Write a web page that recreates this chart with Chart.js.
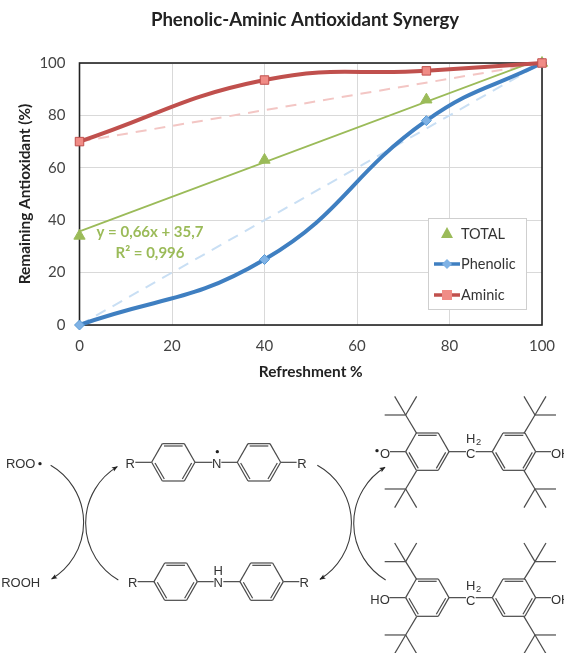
<!DOCTYPE html>
<html>
<head>
<meta charset="utf-8">
<title>Phenolic-Aminic Antioxidant Synergy</title>
<script src="https://cdn.jsdelivr.net/npm/chart.js@4"></script>
<style>
  html, body { margin: 0; padding: 0; background: #fff; overflow: hidden; }
  #page { position: relative; width: 564px; height: 653px; overflow: hidden; filter: blur(0.35px); }
  #chartBox { position: absolute; left: 0; top: 0; width: 564px; height: 385px; }
  #scheme { position: absolute; left: 0; top: 385px; }
  #scheme text { font-family: "Liberation Sans", Arial, sans-serif; font-size: 39px; fill: #333; }
</style>
</head>
<body>
<div id="page">
  <div id="chartBox"><canvas id="synergyChart" width="564" height="385"></canvas></div>
  <svg id="scheme" width="564" height="268" viewBox="0 0 564 268"></svg>
</div>
<script>
// values
const refreshment = [0, 40, 75, 100];
const totalValues = [34, 63, 86, 100];
const phenolicValues = [0, 25, 78, 100];
const aminicValues = [70, 93.5, 97, 100];

const endsX = [0, 100];
const trendValues = [35.7, 101.7];
const phenolicDashed = [0, 100];
const aminicDashed = [70, 100];

const xTicks = [0, 20, 40, 60, 80, 100];
const titleText = 'Phenolic-Aminic Antioxidant Synergy';
const xTitle = 'Refreshment %';
const yTitle = 'Remaining Antioxidant (%)';
const trendLabels = ['y = 0,66x + 35,7', 'R² = 0,996'];

const pts = (xs, ys) => xs.map((x, i) => ({ x: x, y: ys[i] }));
const uiFont = 'Lato, Carlito, sans-serif';

// frame under the lines, title / trend text / legend box on top
const extras = {
    id: 'extras',
    beforeDatasetsDraw(chart) {
        const a = chart.chartArea, c = chart.ctx;
        c.save();
        c.strokeStyle = '#222';
        c.lineWidth = 1.6;
        c.strokeRect(a.left, a.top, a.right - a.left, a.bottom - a.top);
        c.restore();
    },
    afterDatasetsDraw(chart) {
        const c = chart.ctx;
        c.save();
        c.textBaseline = 'middle';

        c.fillStyle = '#222';
        c.font = 'bold 18.6px ' + uiFont;
        c.textAlign = 'center';
        c.fillText(titleText, 305, 20);

        c.fillStyle = '#9bbb59';
        c.font = 'bold 15px ' + uiFont;
        c.fillText(trendLabels[0], 150, 232);
        c.fillText(trendLabels[1], 150, 253);

        // legend
        c.fillStyle = '#fff';
        c.fillRect(428, 218, 98, 91);
        c.strokeStyle = '#cfcfcf';
        c.lineWidth = 1;
        c.strokeRect(428.5, 218.5, 98, 91);

        c.textAlign = 'left';
        c.font = '14.5px ' + uiFont;
        c.fillStyle = '#333';
        c.fillText('TOTAL', 461, 234);
        c.fillText('Phenolic', 461, 264);
        c.fillText('Aminic', 461, 295);

        c.fillStyle = '#9bbb59';
        c.beginPath();
        c.moveTo(447, 227); c.lineTo(453, 238); c.lineTo(441, 238);
        c.closePath();
        c.fill();

        c.lineWidth = 3.5;
        c.strokeStyle = '#3f7fc1';
        c.beginPath(); c.moveTo(434, 264); c.lineTo(460, 264); c.stroke();
        c.fillStyle = '#7fb2e5';
        c.beginPath();
        c.moveTo(447, 259); c.lineTo(452, 264); c.lineTo(447, 269); c.lineTo(442, 264);
        c.closePath();
        c.fill();

        c.strokeStyle = '#c0504d';
        c.beginPath(); c.moveTo(434, 295); c.lineTo(460, 295); c.stroke();
        c.fillStyle = '#f08c86';
        c.fillRect(442, 290, 10, 10);
        c.restore();
    }
};

new Chart(document.getElementById('synergyChart').getContext('2d'), {
    type: 'scatter',
    data: {
        datasets: [
            { label: 'Aminic', data: pts(refreshment, aminicValues), showLine: true, tension: 0.45, order: 1, clip: false,
              borderColor: '#c0504d', borderWidth: 4, pointStyle: 'rect', pointRadius: 6,
              pointBackgroundColor: '#f08c86', pointBorderColor: '#c0504d', pointBorderWidth: 1 },
            { label: 'Phenolic', data: pts(refreshment, phenolicValues), showLine: true, tension: 0.45, order: 2, clip: false,
              borderColor: '#3f7fc1', borderWidth: 4, pointStyle: 'rectRot', pointRadius: 5,
              pointBackgroundColor: '#7fb2e5', pointBorderColor: '#5b9bd5', pointBorderWidth: 1 },
            { label: 'TOTAL', data: pts(refreshment, totalValues), showLine: false, order: 3, clip: false,
              pointStyle: 'triangle', pointRadius: 6.5, pointBackgroundColor: '#9bbb59', pointBorderColor: '#9bbb59' },
            { label: 'Trend', data: pts(endsX, trendValues), showLine: true, order: 4, clip: 0,
              borderColor: '#9bbb59', borderWidth: 1.8, pointRadius: 0 },
            { label: 'Phenolic linear', data: pts(endsX, phenolicDashed), showLine: true, order: 5, clip: 0,
              borderColor: '#c9dff4', borderWidth: 2, borderDash: [11, 8], pointRadius: 0 },
            { label: 'Aminic linear', data: pts(endsX, aminicDashed), showLine: true, order: 6, clip: 0,
              borderColor: '#f3c6c4', borderWidth: 2, borderDash: [11, 8], pointRadius: 0 }
        ]
    },
    options: {
        responsive: false,
        animation: false,
        layout: { padding: { left: 16, right: 22, top: 63, bottom: 4 } },
        plugins: { legend: { display: false }, tooltip: { enabled: false } },
        scales: {
            x: {
                type: 'linear', min: 0, max: 100,
                afterBuildTicks: s => { s.ticks = xTicks.map(v => ({ value: v })); },
                afterFit: s => { s.height = 56; s.paddingLeft = 0; s.paddingRight = 0; },
                grid: { color: '#d9d9d9', drawTicks: false },
                border: { display: false },
                ticks: { color: '#444', font: { family: uiFont, size: 15 }, padding: 12, maxRotation: 0 },
                title: { display: true, text: xTitle, color: '#222', font: { family: uiFont, size: 15.4, weight: 'bold' }, padding: { top: 6, bottom: 0 } }
            },
            y: {
                min: 0, max: 100,
                afterFit: s => { s.width = 63.5; },
                grid: { color: '#d9d9d9', drawTicks: false },
                border: { display: false },
                ticks: { stepSize: 20, color: '#444', font: { family: uiFont, size: 15 }, padding: 14 },
                title: { display: true, text: yTitle, color: '#222', font: { family: uiFont, size: 15.4, weight: 'bold' }, padding: { top: 0, bottom: 4 } }
            }
        }
    },
    plugins: [extras]
});

// reaction scheme below the chart, coordinates are 3x so they read like the zoomed picture
const NS = 'http://www.w3.org/2000/svg';
const svg = document.getElementById('scheme');
const defs = document.createElementNS(NS, 'defs');
const marker = document.createElementNS(NS, 'marker');
marker.setAttribute('id', 'head');
marker.setAttribute('viewBox', '0 0 10 10');
marker.setAttribute('refX', 9);
marker.setAttribute('refY', 5);
marker.setAttribute('markerWidth', 22);
marker.setAttribute('markerHeight', 18);
marker.setAttribute('markerUnits', 'userSpaceOnUse');
marker.setAttribute('orient', 'auto');
const tip = document.createElementNS(NS, 'path');
tip.setAttribute('d', 'M0 1 L10 5 L0 9 L2 5 Z');
tip.setAttribute('fill', '#222');
marker.appendChild(tip);
defs.appendChild(marker);
svg.appendChild(defs);

function group(x) {
    const g = document.createElementNS(NS, 'g');
    g.setAttribute('transform', 'translate(' + x + ',0) scale(0.3333)');
    svg.appendChild(g);
    return g;
}
function line(g, x1, y1, x2, y2, w) {
    const l = document.createElementNS(NS, 'line');
    l.setAttribute('x1', x1); l.setAttribute('y1', y1);
    l.setAttribute('x2', x2); l.setAttribute('y2', y2);
    l.setAttribute('stroke', '#4a4a4a');
    l.setAttribute('stroke-width', w || 3.6);
    g.appendChild(l);
}
function label(g, s, x, y, size) {
    const t = document.createElementNS(NS, 'text');
    t.setAttribute('x', x); t.setAttribute('y', y);
    t.setAttribute('text-anchor', 'middle');
    if (size) t.setAttribute('style', 'font-size:' + size + 'px');
    t.textContent = s;
    g.appendChild(t);
}
function dot(g, x, y) {
    const d = document.createElementNS(NS, 'circle');
    d.setAttribute('cx', x); d.setAttribute('cy', y);
    d.setAttribute('r', 5); d.setAttribute('fill', '#222');
    g.appendChild(d);
}
function arrow(g, d) {
    const p = document.createElementNS(NS, 'path');
    p.setAttribute('d', d);
    p.setAttribute('fill', 'none');
    p.setAttribute('stroke', '#3a3a3a');
    p.setAttribute('stroke-width', 3.2);
    p.setAttribute('marker-end', 'url(#head)');
    g.appendChild(p);
}
function ring(g, cx, cy) {
    const rx = 65, dx = 33, dy = 56;
    const v = [[cx - rx, cy], [cx - dx, cy - dy], [cx + dx, cy - dy], [cx + rx, cy], [cx + dx, cy + dy], [cx - dx, cy + dy]];
    v.forEach((p, i) => { const q = v[(i + 1) % 6]; line(g, p[0], p[1], q[0], q[1]); });
    line(g, cx - dx + 5, cy - dy + 7, cx + dx - 5, cy - dy + 7);
    line(g, cx - rx + 10, cy + 2, cx - dx + 6, cy + dy - 6);
    line(g, cx + rx - 10, cy + 2, cx + dx - 6, cy + dy - 6);
}
// tert-butyl: stem start, quaternary carbon, side (-1 left / 1 right), up (-1) or down (1)
function tbu(g, sx, sy, qx, qy, side, dir) {
    line(g, sx, sy, qx, qy);
    line(g, qx, qy, qx + side * 63, qy);
    line(g, qx, qy, qx + 33, qy + dir * 56);
    line(g, qx, qy, qx - 33, qy + dir * 56);
}

// amines and cycle arrows on the left
const left = group(0);
label(left, 'ROO', 62, 248);
dot(left, 120, 236);
label(left, 'ROOH', 62, 606);

ring(left, 520, 232);
ring(left, 777, 232);
line(left, 406, 232, 455, 232);
line(left, 585, 232, 637, 232);
line(left, 664, 232, 713, 232);
line(left, 843, 232, 890, 232);
label(left, 'R', 391, 250);
label(left, 'N', 650, 250);
label(left, 'R', 906, 250);
dot(left, 652, 200);

ring(left, 527, 590);
ring(left, 785, 590);
line(left, 413, 590, 463, 590);
line(left, 592, 590, 641, 590);
line(left, 670, 590, 720, 590);
line(left, 850, 590, 898, 590);
label(left, 'R', 398, 607);
label(left, 'N', 655, 607);
label(left, 'H', 655, 570);
label(left, 'R', 913, 607);

arrow(left, 'M152 241 A198 198 0 0 1 155 582');
arrow(left, 'M355 585 A198 198 0 0 1 352 245');
arrow(left, 'M952 241 A198 198 0 0 1 960 583');

// phenols on the right (second cycle arrow belongs to this group too)
const right = group(340);
arrow(right, 'M137 585 A198 198 0 0 1 135 247');

ring(right, 262, 200);
ring(right, 522, 200);
tbu(right, 230, 145, 197, 90, -1, -1);
tbu(right, 230, 257, 197, 312, -1, 1);
tbu(right, 552, 145, 585, 90, 1, -1);
tbu(right, 552, 257, 585, 312, 1, 1);
line(right, 150, 200, 197, 200);
line(right, 327, 200, 378, 200);
line(right, 407, 200, 457, 200);
line(right, 587, 200, 633, 200);
label(right, 'O', 135, 218);
dot(right, 111, 197);
label(right, 'C', 392, 218);
label(right, 'H', 392, 175);
label(right, '2', 416, 180, 28);
label(right, 'OH', 662, 218);

ring(right, 262, 638);
ring(right, 522, 638);
tbu(right, 230, 583, 197, 530, -1, -1);
tbu(right, 230, 695, 197, 750, -1, 1);
tbu(right, 552, 583, 585, 530, 1, -1);
tbu(right, 552, 695, 585, 750, 1, 1);
line(right, 148, 638, 197, 638);
line(right, 327, 638, 378, 638);
line(right, 407, 638, 457, 638);
line(right, 587, 638, 633, 638);
label(right, 'HO', 120, 656);
label(right, 'C', 392, 659);
label(right, 'H', 392, 615);
label(right, '2', 416, 620, 28);
label(right, 'OH', 662, 656);
</script>
</body>
</html>
